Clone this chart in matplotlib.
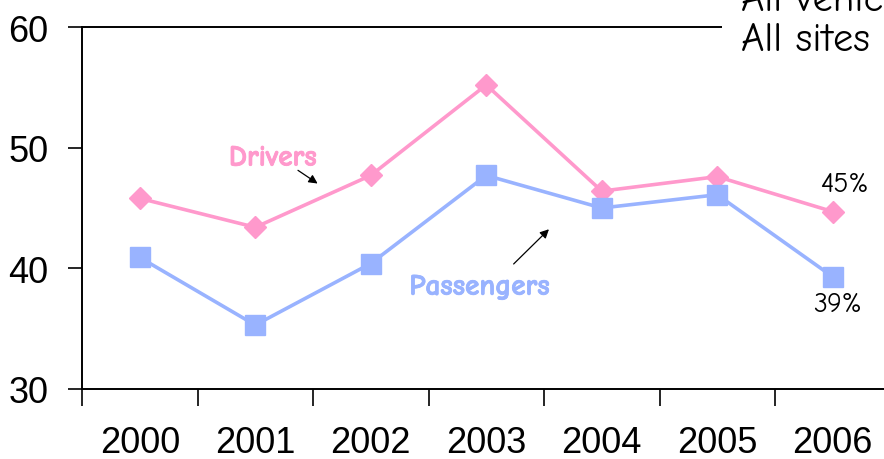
import matplotlib.pyplot as plt
import matplotlib.patheffects as pe

years = ['2000', '2001', '2002', '2003', '2004', '2005', '2006']
drivers = [45.8, 43.4, 47.7, 55.2, 46.4, 47.6, 44.7]
passengers = [40.9, 35.3, 40.4, 47.7, 45.0, 46.1, 39.3]

pink = '#FF99CC'
blue = '#99B3FF'
hand = ['Comic Neue', 'Lato', 'DejaVu Sans']

plt.rcParams['font.family'] = ['Liberation Sans', 'DejaVu Sans']

fig = plt.figure(figsize=(8.84, 4.6), dpi=100)
ax = fig.add_axes([82 / 884, 1 - 390 / 460, 808.5 / 884, 362 / 460])

x = list(range(len(years)))
ax.plot(x, drivers, color=pink, lw=2.6, marker='D', ms=11, mec=pink, mfc=pink)
ax.plot(x, passengers, color=blue, lw=2.6, marker='s', ms=14, mec=blue, mfc=blue)

ax.set_xlim(-0.5, len(years) - 0.5)
ax.set_ylim(30, 60)
ax.set_yticks([30, 40, 50, 60])
ax.set_xticks([i - 0.5 for i in x])
ax.set_xticklabels([])
ax.set_xticks(x, minor=True)
ax.set_xticklabels(years, minor=True)
ax.tick_params(axis='x', which='minor', length=0, pad=26, labelsize=26)
ax.tick_params(axis='x', which='major', length=12, width=1.2)
ax.tick_params(axis='y', length=10, width=1.2, pad=14, labelsize=26)
for s in ax.spines.values():
    s.set_linewidth(1.4)
ax.spines['right'].set_visible(False)

# bold look for the hand-drawn labels
pink_fx = [pe.withStroke(linewidth=0.6, foreground=pink)]
blue_fx = [pe.withStroke(linewidth=0.6, foreground=blue)]

ax.text(1.15, 49.1, 'Drivers', color=pink, fontsize=21, fontweight='bold',
        family=hand, ha='center', va='center', path_effects=pink_fx)
ax.annotate('', xy=(1.56, 46.9), xytext=(1.35, 48.25),
            arrowprops=dict(arrowstyle='-|>', color='black', lw=0.9, mutation_scale=13))
ax.text(2.94, 38.4, 'Passengers', color=blue, fontsize=21, fontweight='bold',
        family=hand, ha='center', va='center', path_effects=blue_fx)
ax.annotate('', xy=(3.56, 43.4), xytext=(3.22, 40.2),
            arrowprops=dict(arrowstyle='-|>', color='black', lw=0.9, mutation_scale=13))

ax.text(6.1, 47.0, '45%', fontsize=20, family=hand, ha='center', va='center')
ax.text(6.04, 37.05, '39%', fontsize=20, family=hand, ha='center', va='center')

fig.text(741 / 884, 1 - 51 / 460, 'All vehicles\nAll sites', fontsize=29, family=hand,
         ha='left', va='baseline', linespacing=1.15,
         bbox=dict(facecolor='white', edgecolor='none', pad=14))

fig.savefig('out.png', dpi=100)
